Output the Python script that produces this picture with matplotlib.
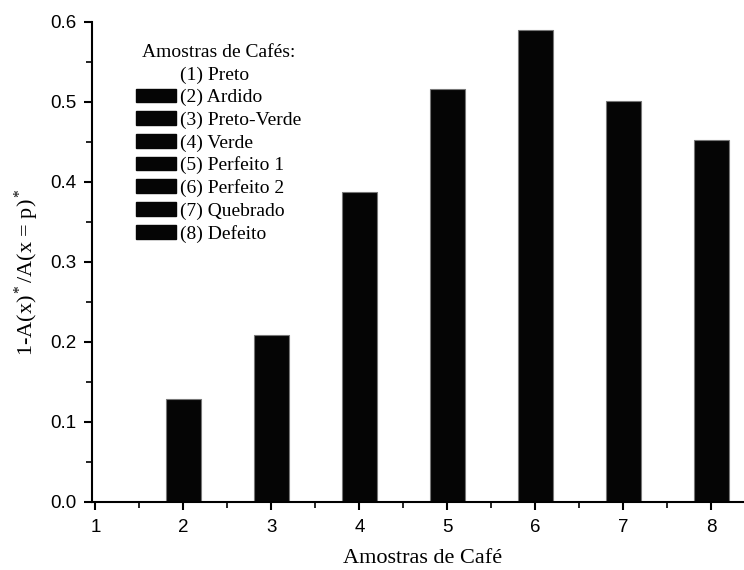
import matplotlib.pyplot as plt
from matplotlib.ticker import MultipleLocator
from matplotlib.patches import Patch

# data
amostras = [1, 2, 3, 4, 5, 6, 7, 8]
valores = [0.0, 0.129, 0.209, 0.388, 0.516, 0.590, 0.501, 0.452]
nomes = ["(1) Preto", "(2) Ardido", "(3) Preto-Verde", "(4) Verde",
         "(5) Perfeito 1", "(6) Perfeito 2", "(7) Quebrado", "(8) Defeito"]

serif = "Liberation Serif"
sans = "Liberation Sans"
plt.rcParams["mathtext.fontset"] = "custom"
plt.rcParams["mathtext.rm"] = serif
plt.rcParams["mathtext.it"] = serif + ":italic"

W, H = 744, 570
fig = plt.figure(figsize=(W / 100, H / 100), dpi=100)
ax = fig.add_axes([91.5 / W, 68 / H, 1 - 91.5 / W, 480 / H])

ax.bar(amostras, valores, width=0.4, color="#050505", edgecolor="#777777", linewidth=0.8)

ax.set_xlim(0.955, 8.37)
ax.set_ylim(0, 0.6)
ax.set_xticks(amostras)
ax.xaxis.set_minor_locator(MultipleLocator(0.5))
ax.yaxis.set_major_locator(MultipleLocator(0.1))
ax.yaxis.set_minor_locator(MultipleLocator(0.05))
ax.set_xticklabels([str(a) for a in amostras])
ax.set_yticklabels([f"{v:.1f}" for v in ax.get_yticks()])

for s in ["top", "right"]:
    ax.spines[s].set_visible(False)
for s in ["left", "bottom"]:
    ax.spines[s].set_linewidth(1.5)

ax.tick_params(which="major", direction="out", length=6, width=1.5,
               labelsize=13.5, pad=5)
ax.tick_params(axis="x", which="major", pad=6)
ax.tick_params(which="minor", direction="out", length=4, width=1.2)
for lab in ax.get_xticklabels() + ax.get_yticklabels():
    lab.set_fontfamily(sans)

ax.set_xlabel("Amostras de Café", fontsize=16, fontfamily=serif)
ax.set_ylabel(r"1-A(x)$^*$/A(x = p)$^*$", fontsize=16, fontfamily=serif)
ax.xaxis.set_label_coords(0.508, -0.098)
ax.yaxis.set_label_coords(-0.078, 0.479)

# legend: first entry has no patch (value zero)
handles = [Patch(facecolor="none", edgecolor="none")]
handles += [Patch(facecolor="#050505", edgecolor="#050505") for _ in nomes[1:]]
leg = fig.legend(handles, nomes, title="Amostras de Cafés:",
                 loc="upper left", bbox_to_anchor=(136 / W, 1 - 44 / H),
                 frameon=False, prop={"family": serif, "size": 14},
                 title_fontproperties={"family": serif, "size": 14},
                 handlelength=2.06, handleheight=0.72, handletextpad=0.2,
                 labelspacing=0.25, borderpad=0, borderaxespad=0)

fig.savefig("out.png", dpi=100)
